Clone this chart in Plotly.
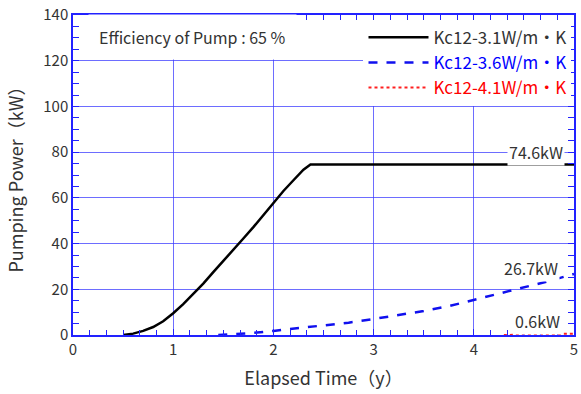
import plotly.graph_objects as go

# Data
t_31 = [0.5, 0.6, 0.7, 0.8, 0.9, 1.0, 1.1, 1.2, 1.3, 1.4, 1.5, 1.6, 1.7, 1.8, 1.9, 2.0, 2.1, 2.2, 2.3, 2.37, 3.0, 4.0, 5.0]
p_31 = [0.0, 0.6, 1.8, 3.5, 6.0, 9.5, 13.5, 18.0, 22.5, 27.5, 32.3, 37.2, 42.2, 47.2, 52.5, 57.8, 63.0, 67.7, 72.3, 74.6, 74.6, 74.6, 74.6]

t_36 = [1.45, 1.6, 1.8, 2.0, 2.25, 2.5, 2.75, 3.0, 3.25, 3.5, 3.75, 4.0, 4.25, 4.5, 4.75, 5.0]
p_36 = [0.0, 0.3, 0.9, 1.8, 2.9, 4.0, 5.4, 7.0, 8.6, 10.5, 12.6, 15.3, 18.0, 20.8, 23.6, 26.7]

t_41 = [4.3, 4.5, 4.7, 4.9, 5.0]
p_41 = [0.0, 0.1, 0.25, 0.45, 0.6]

series_names = ["Kc12-3.1W/m・K", "Kc12-3.6W/m・K", "Kc12-4.1W/m・K"]
end_labels = ["74.6kW", "26.7kW", "0.6kW"]

FONT = "Noto Sans CJK JP"
TXT = "#333333"
GRID = "rgba(60,60,255,0.75)"
AXIS = "#2222ff"

fig = go.Figure()
fig.add_trace(go.Scatter(x=t_31, y=p_31, mode="lines", name=series_names[0],
                         line=dict(color="black", width=2.5)))
fig.add_trace(go.Scatter(x=t_36, y=p_36, mode="lines",
                         name="<span style='color:#0000ff'>" + series_names[1] + "</span>",
                         line=dict(color="#1010ee", width=2.5, dash="dash")))
fig.add_trace(go.Scatter(x=t_41, y=p_41, mode="lines",
                         name="<span style='color:#ff0000'>" + series_names[2] + "</span>",
                         line=dict(color="#ff2020", width=2, dash="dot")))

fig.add_annotation(x=1.19, y=130.5, xref="x", yref="y", text="Efficiency of Pump : 65 %",
                   showarrow=False, bgcolor="white", borderpad=10,
                   font=dict(family=FONT, size=16, color=TXT))

label_x = [4.62, 4.57, 4.64]
label_y = [80.0, 29.5, 6.0]
for lx, ly, lt in zip(label_x, label_y, end_labels):
    fig.add_annotation(x=lx, y=ly, xref="x", yref="y", text=lt, showarrow=False,
                       bgcolor="white", borderpad=1,
                       font=dict(family=FONT, size=16, color=TXT))

fig.update_layout(
    width=581, height=394,
    margin=dict(l=73, r=3, t=13, b=59),
    paper_bgcolor="white", plot_bgcolor="white",
    font=dict(family=FONT, size=15, color=TXT),
    showlegend=True,
    legend=dict(x=0.995, y=0.985, xanchor="right", yanchor="top",
                bgcolor="white", font=dict(family=FONT, size=17, color=TXT),
                itemwidth=60, tracegroupgap=0),
)

fig.update_xaxes(range=[0, 5], dtick=1, showgrid=True, gridcolor=GRID, gridwidth=1,
                 showline=True, linecolor=AXIS, linewidth=1.5, mirror="ticks",
                 ticks="inside", ticklen=6, tickcolor=AXIS, zeroline=False,
                 minor=dict(ticks="inside", ticklen=5, dtick=1/6, tickcolor=AXIS),
                 tickfont=dict(family=FONT, size=15, color=TXT),
                 title=dict(text="Elapsed Time（y）", font=dict(family=FONT, size=18, color=TXT)))
fig.update_yaxes(range=[0, 140], dtick=20, showgrid=True, gridcolor=GRID, gridwidth=1,
                 showline=True, linecolor=AXIS, linewidth=1.5, mirror="ticks",
                 ticks="inside", ticklen=6, tickcolor=AXIS, zeroline=False,
                 minor=dict(ticks="inside", ticklen=6, dtick=5, tickcolor=AXIS),
                 tickfont=dict(family=FONT, size=15, color=TXT),
                 title=dict(text="Pumping Power（kW）", font=dict(family=FONT, size=18, color=TXT)))

fig.write_html("out.html")
